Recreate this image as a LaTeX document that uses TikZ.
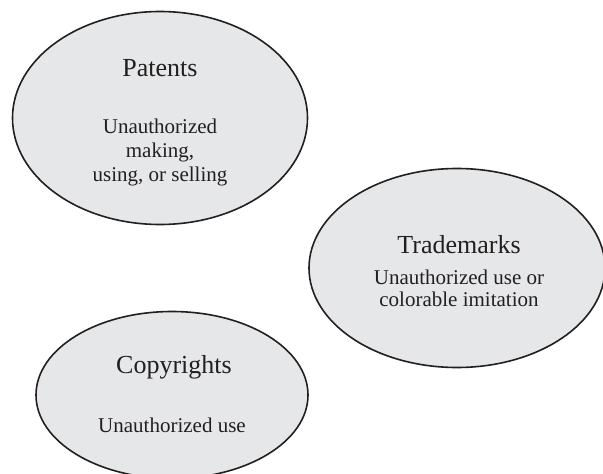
\documentclass[tikz,border=0pt]{standalone}
\usepackage{fontspec}
\setmainfont{Liberation Serif}
\usetikzlibrary{shapes.geometric}
\definecolor{fillgray}{HTML}{E6E7E8}
\definecolor{ink}{HTML}{231F20}
\tikzset{
  oval/.style={ellipse, draw=ink, fill=fillgray, line width=1.6pt, inner sep=0pt},
  titletext/.style={text=ink, font=\fontsize{26}{30}\selectfont, inner sep=0pt},
  bodytext/.style={text=ink, align=center, inner sep=0pt}
}
\begin{document}
\begin{tikzpicture}[x=1pt,y=-1pt]
\useasboundingbox (0,0) rectangle (603,474);
\fill[white] (0,0) rectangle (603,474);
% Patents
\node[oval, minimum width=295pt, minimum height=213pt] (patents) at (160,118) {};
\node[titletext] (patentsT) at (160,68) {Patents};
\node[bodytext, font=\fontsize{21}{24}\selectfont] (patentsB) at (160,152) {Unauthorized\\making,\\using, or selling};
% Trademarks
\node[oval, minimum width=296pt, minimum height=199pt] (trademarks) at (457,268) {};
\node[titletext] (trademarksT) at (459,245) {Trademarks};
\node[bodytext, font=\fontsize{21}{22}\selectfont] (trademarksB) at (459,288) {Unauthorized use or\\colorable imitation};
% Copyrights
\node[oval, minimum width=272pt, minimum height=167pt] (copyrights) at (172,395) {};
\node[titletext] (copyrightsT) at (174,367) {Copyrights};
\node[bodytext, font=\fontsize{21}{24}\selectfont] (copyrightsB) at (172,425) {Unauthorized use};
\end{tikzpicture}
\end{document}
